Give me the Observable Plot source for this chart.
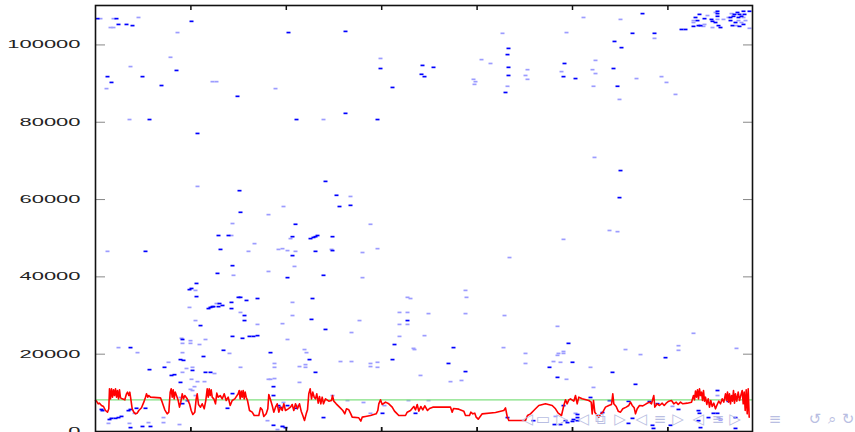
<!DOCTYPE html>
<html>
<head>
<meta charset="utf-8">
<script src="https://cdn.jsdelivr.net/npm/d3@7"></script>
<script src="https://cdn.jsdelivr.net/npm/@observablehq/plot@0.6"></script>
<style>
  html, body { margin: 0; padding: 0; background: #fff; overflow: hidden; }
  #wrap { position: relative; width: 855px; height: 432px; }
  .nav { position: absolute; top: 410px; transform: translateX(-50%); color: #b9bee2; font-family: "DejaVu Sans", sans-serif; font-size: 15px; line-height: 18px; }
</style>
</head>
<body>
<div id="wrap"></div>
<script>
// ---- data ----
const yTicks = [0, 20000, 40000, 60000, 80000, 100000];
const xTicks = [95.4, 190.8, 286.2, 381.6, 477, 572.4];
const threshold = 8200;

// red series (time, value)
const redX = [0,1,2.7,4,6,8,10,12,13.3,14,15,16,17,18,19,20,21,22,23,24,25,26.7,29.3,31,32,33.3,34.3,35.3,36.7,38.3,40,41.7,43.3,46,48.3,50,51,52.3,53.3,55,65,66.7,69.3,71.7,73.3,74.7,75.7,76.7,77.7,78.7,79.7,81,82.7,84,85.3,86.7,88,89.3,91.7,94,95.7,97.3,99.3,100.7,101.7,103,105,106.7,108.7,110.3,111.7,112.7,113.7,114.7,115.7,116.7,118.3,120,121.3,122.7,124.7,126.7,128.7,130.7,132.7,134.7,136.7,139.3,142.7,143.7,144.7,145.7,146.7,147.7,148.7,149.7,150.7,152,154,156.7,158.7,163.3,165,166.7,168.3,170.7,172.3,173.3,174.7,176.7,178.3,180,181.7,183.3,185,186.7,188.3,190,192.7,195,196.7,198.3,200,202,204,205.7,207.3,209,210.7,212,213.3,214.7,216,217.3,218.7,
220,221.3,222.7,224,225.3,226.7,228,230,233.3,236,237,238.3,240.7,244,247.3,249.3,251,253.3,255.3,256.7,263.3,265.3,266.7,270,275,280.7,282.3,283.3,285,286.7,290,293.3,296.7,299,301,303.3,310,311.7,315,318.3,320,321.7,323.3,325.3,327.3,329.3,332,334,337.3,355,356.7,358,363.3,368.3,370,374,375.3,377.3,379.3,380.7,382.7,384.7,386.7,400,408.3,410,411.7,413.3,430,432,435,438.3,
440,443.3,450,456.7,460,462.7,466,468.3,470,471.7,473.3,475,478.3,480,481.7,483.3,486.7,493.3,495.7,496.7,498,499.3,501.7,503.3,505.3,507.3,510,513.3,516,517.3,518.3,520.7,522.7,525,527.3,530.7,533.3,535,536.7,538.7,540,541.7,544,547.3,550.7,554,556,558.3,559.3,561.7,564,566.7,568.7,570.7,573.3,576,578.3,580.7,582.7,585,587.3,591.7,596,598,599,600,601,602,603,604,605,606,607,608,609,610,611.3,612.7,614,615.3,616.7,618.3,620,621.7,623.3,625,626.7,628.3,630,631,632,633,634,635,636,637,638,639,640,641.3,642.7,644,645.3,646.7,647.7,648.7,649.7,650.7,651.7,652.7,653.7];
const redY = [8020,7850,7160,7330,6730,6470,5430,5000,5870,11040,8450,11040,8880,10780,9310,11040,8880,10610,8450,10780,8710,8450,8190,9750,10180,9310,10180,8450,5870,5000,4570,4740,5430,6130,7590,8880,9750,8880,9310,8880,8710,7590,5610,4570,5000,10180,11040,8880,10780,8450,10180,9310,8020,6300,7590,9750,8450,9310,8450,7160,5430,4400,5000,8450,9750,6990,6300,7160,5870,8020,11040,8880,11040,9310,10780,8880,8450,7160,9920,8880,9310,8450,9750,8020,8880,6730,8020,8450,9750,10610,8450,10440,8880,10610,8450,10180,8880,8020,5430,5000,4140,4140,6130,5610,3880,4570,5870,9570,8450,6730,5000,6300,7160,5000,6300,5430,7160,5430,5870,6300,6990,5430,7160,5870,7160,5260,4140,2850,4570,5610,9750,11040,8450,10180,8880,
8450,9750,7330,9050,7160,8880,7160,8450,7850,8020,9310,7850,7160,6300,5430,4570,5870,5610,4570,3710,3540,2680,3710,3880,4140,4570,5430,7160,8190,6990,7590,7160,6300,5260,4740,4140,4140,5000,5430,6470,5610,6990,5260,6470,5610,6640,5430,5950,6300,6300,5000,5950,5780,5260,4140,4140,5000,4570,4740,3710,3190,3880,4570,4910,5430,6130,3880,2850,2850,4140,4570,5430,
5870,6730,7160,6730,5870,4740,4140,6730,8190,7160,8190,8450,7850,9310,7160,8880,8450,8020,7590,4570,8020,5000,4140,3710,4570,5000,6300,6730,6990,9750,7160,6470,5260,5000,5870,6300,6730,7590,6730,6130,4570,5870,6730,6640,7160,7590,7160,9310,6300,7160,6730,7330,6730,7330,7850,8020,7160,7590,6990,7590,7160,7330,7590,9310,8190,10440,8880,10780,8450,11040,9310,10180,8020,10610,7850,8880,6990,8450,6300,8020,6470,7330,5870,6990,7850,7160,8450,7590,9750,8020,10180,7590,9750,7160,9310,7850,10610,7330,9750,7850,10180,8020,9310,10610,7160,10180,5430,10780,4570,11040,3710];

// blue points, strong
const darkPts = [[2,106800],[21,106800],[23,105300],[31,105300],[37,105000],[96,106100],[81,93400],[12,91800],[47,91800],[16,90300],[66,89500],[54,80700],[102,77100],
[193,103200],[250,103500],[285,93900],[297,89000],[142,86700],[201,80700],[250,82300],[282,80700],
[547,108100],[519,100900],[537,103000],[559,103000],[526,99300],[413,99100],[412,97500],[327,94700],[338,94200],[413,94200],[469,95200],[518,93900],[468,91800],[480,91300],[326,92400],[329,91800],[413,92100],[522,89300],[410,87700],[525,67500],[524,60500],
[586,104000],[590,104000],[598,104800],[600,107100],[602,106300],[604,107900],[609,106800],[603,105000],[605,105000],[616,106600],[617,106100],[620,105800],[622,108700],[622,108100],[622,107400],[623,105000],[625,104500],[635,107100],[639,107900],[642,108400],[644,107900],[643,107100],[646,107400],[648,108700],[649,107900],[640,105800],[635,106300],[648,105300],[637,105000],[644,104800],[654,108700],[638,107400],
[144,62300],[230,64700],[241,61100],[244,58200],[255,58500],[145,56700],[200,53600],[123,50700],[133,50700],[197,50400],[215,49900],[218,50200],[220,50400],[222,50700],[237,50400],[50,46600],[125,47100],[220,46600],[237,46800],[197,45500],[137,42900],[122,40900],[192,39800],[228,40400],[101,38300],[94,36700],[96,37000],[101,34900],[143,34700],[145,34700],[162,34400],[151,33900],[217,34400],[124,33100],[136,33400],[113,31800],[115,32100],[117,32300],[118,32300],[123,32300],[127,32600],[136,31800],[149,30000],[149,28700],[216,29000],[312,28700],[105,27400],[230,26400],[87,23800],[137,24600],[147,24100],[154,24600],[158,24600],[162,24800],[299,22500],[35,21700],[128,21000],[175,20400],[108,19400],[85,18600],[88,18400],[214,18600],[297,18600],[69,16600],[54,16000],[97,15800],[110,15300],[115,15300],[220,15300],[76,14500],[79,14700],
[85,12700],[178,11600],[178,9300],[137,9800],[92,8000],[87,7200],[6,5700],[7,5400],[14,3100],[16,3400],[20,3400],[23,3600],[26,3900],[33,5400],[35,5700],[41,6000],[50,6000],[35,1000],[47,1300],[55,1300],[132,6000],[183,6700],[185,6200],[192,6700],[178,1600],[200,6000],[190,1000],[187,1300],[228,3600],[287,4700],[320,4700],[438,2800],[358,21700],[353,17600],[370,15500],[473,22800],[477,17900],[454,16600],[462,14000],[482,4400],[478,3100],[459,1800],[465,1800],[412,3600],
[540,12200],[495,8800],[514,8000],[533,7800],[554,7800],[562,7200],[622,10600],[633,7800],[603,5400],[604,4700],[583,5700],[482,3600],[468,6700],[470,2800],[472,2300],[477,2600],[482,2800],[507,4900],[533,2100],[537,3400],[557,1600],[558,800],[575,1600],[603,2800],[605,1000],[618,4700],[622,4700],[613,3600],[625,3100],[640,800],[640,3600],
[570,19100],[517,15300]];

// blue points, faint
const lightPts = [[5,106800],[18,106800],[15,104500],[18,104500],[43,107100],[82,103200],[75,96800],[35,94400],[11,88700],[34,80700],
[285,96500],[117,90500],[121,90500],[180,88700],[228,80700],
[488,107100],[525,106600],[407,103000],[471,103200],[559,101700],[386,96200],[395,95200],[432,93600],[500,96000],[497,93600],[500,92600],[466,93100],[541,91300],[566,91800],[571,90300],[580,87200],[378,91100],[380,90500],[379,89800],[430,92100],[432,91100],[412,89300],[498,89300],[524,85900],[499,70900],
[598,105800],[598,106300],[612,107600],[608,104800],[609,105300],[617,104500],[620,108400],[622,106600],[628,106600],[633,107100],[636,108100],[648,107100],[643,106300],[646,105800],[641,105000],[654,104300],[650,106300],
[102,63400],[255,60800],[188,58200],[173,56100],[137,53800],[275,53600],[136,50700],[195,49900],[159,48600],[12,46600],[153,46600],[183,47100],[187,47300],[192,46800],[200,46600],[236,47100],[267,46300],[282,47300],[199,42700],[173,41400],[138,40400],[267,39800],[100,36500],[197,33400],[312,34700],[315,34400],[121,33100],[94,32100],[145,30800],[197,30000],[304,30800],[312,30800],[100,28700],[162,27700],[187,27900],[264,28700],[304,27700],[312,27700],[256,25600],[304,24600],[329,24800],[86,24100],[95,23500],[87,22800],[95,22800],[110,23800],[104,22500],[192,23800],[318,21500],[23,21700],[42,20400],[87,20400],[134,20200],[209,21200],[211,20400],[73,17900],[245,18100],[256,18100],[275,17600],[282,17900],[275,16800],[282,16600],[179,17600],[179,16600],[210,17300],[210,16600],[204,16800],[91,16300],[97,16600],[87,15300],[119,15000],[145,16600],[96,13500],[173,13500],[175,13500],[179,13700],[325,14500],
[99,11600],[102,12900],[109,12900],[204,12700],[95,10900],[97,10600],[100,9300],[85,8800],[13,2100],[39,4700],[34,2100],[53,2300],[68,3600],[68,2300],[84,1800],[188,7500],[172,2800],[202,6700],[187,1300],[182,500],[237,9300],[252,8000],[268,7500],[275,4700],[355,12900],[366,13200],[333,8000],[313,8000],[289,6700],[319,21200],[333,30500],[370,30500],[409,30000],[408,21700],[430,20200],[430,17600],[462,27200],[463,20200],[468,20200],[468,20700],[462,19700],[458,18100],[465,17900],[471,13500],[460,3900],
[498,11400],[622,9300],[577,6500],[480,4700],[623,3600],
[514,52000],[522,51700],[468,49700],[414,45000],[370,36500],[371,34700],[530,21200],[545,19900],[583,22200],[583,21000],[598,25400],[641,21500],[495,16600]];

// navigation glyphs (decoration)
const navGlyphs = ["◁","▭","▷","◁","⧉","▷","◁","≡","▷","◁","≡","▷","≡","↺","⌕","↻"];
const navLeft = [527,543,562,583,600,620,641,660,678,698,718,735,775,815,832,848];

// ---- chart ----
const red = redX.map((x, i) => ({x, y: redY[i]}));
const dark = darkPts.map(([x, y]) => ({x, y}));
const light = lightPts.map(([x, y]) => ({x, y}));

const dash = {draw(c) { c.moveTo(-2, -0.85); c.lineTo(2, -0.85); c.lineTo(2, 0.85); c.lineTo(-2, 0.85); c.closePath(); }};

const chart = Plot.plot({
  width: 855,
  height: 432,
  marginLeft: 95,
  marginRight: 103,
  marginTop: 5,
  marginBottom: 1,
  style: {background: "white", fontFamily: "'Liberation Sans', Arial, sans-serif", fontSize: "11px", overflow: "visible"},
  x: {domain: [0, 657]},
  y: {domain: [0, 110200]},
  marks: [
    Plot.dot(light, {x: "x", y: "y", symbol: dash, r: 3, fill: "#9c9cff", stroke: null}),
    Plot.dot(dark, {x: "x", y: "y", symbol: dash, r: 3, fill: "#0000ff", stroke: null}),
    Plot.ruleY([threshold], {stroke: "#80e080", strokeWidth: 1.2}),
    Plot.line(red, {x: "x", y: "y", stroke: "#ff0000", strokeWidth: 1.6}),
    Plot.axisY({anchor: "left", ticks: yTicks, tickSize: -10, tickPadding: 25, tickFormat: d => String(d), stroke: "#888", fill: "#222", label: null}),
    Plot.axisY({anchor: "right", ticks: yTicks, tickSize: -10, tickFormat: () => "", stroke: "#888", label: null}),
    Plot.axisX({anchor: "top", ticks: xTicks, tickSize: -4, tickFormat: () => "", stroke: "#111", strokeWidth: 1.5, label: null}),
    Plot.axisX({anchor: "bottom", ticks: xTicks, tickSize: -4, tickFormat: () => "", stroke: "#111", strokeWidth: 1.8, label: null}),
    Plot.frame({stroke: "#111", strokeWidth: 1.6})
  ]
});

const wrap = document.getElementById("wrap");
wrap.appendChild(chart);

// horizontally stretched tick labels as in the reference
chart.querySelectorAll('[aria-label="y-axis tick label"] text').forEach(t => {
  const s = t.textContent;
  if (s) { t.setAttribute("textLength", 12.2 * s.length); t.setAttribute("lengthAdjust", "spacingAndGlyphs"); }
});

navGlyphs.forEach((g, i) => {
  const s = document.createElement("span");
  s.className = "nav";
  s.textContent = g;
  s.style.left = navLeft[i] + "px";
  wrap.appendChild(s);
});
</script>
</body>
</html>
